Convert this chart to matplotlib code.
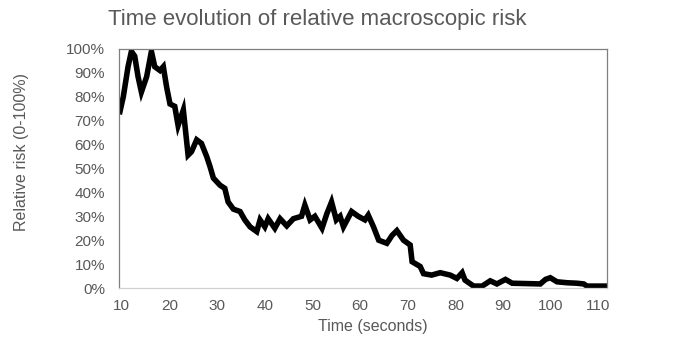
import matplotlib
matplotlib.use("Agg")
import matplotlib.pyplot as plt
from matplotlib.ticker import FuncFormatter

time_s = [9.6, 10.3, 11.3, 12.0, 12.7, 13.4, 14.1, 15.2, 16.2, 16.9, 18.0, 18.7,
          19.4, 20.1, 21.1, 21.8, 22.9, 23.9, 24.6, 25.7, 26.7, 27.8, 28.5, 29.2,
          30.6, 31.6, 32.3, 33.4, 34.8, 35.8, 36.9, 38.3, 39.0, 40.0, 40.7, 42.1,
          43.2, 44.6, 46.0, 47.7, 48.4, 49.5, 50.5, 52.0, 53.0, 54.0, 55.0, 55.8,
          56.5, 58.2, 59.6, 61.0, 61.7, 62.8, 63.9, 65.6, 66.7, 67.7, 69.1, 70.5,
          70.9, 72.6, 73.3, 75.0, 76.8, 78.9, 80.3, 81.4, 82.0, 83.8, 85.6, 87.3,
          88.7, 90.5, 91.9, 97.8, 98.9, 99.9, 101.3, 103.4, 105.5, 106.9, 107.6,
          111.5]
risk_pct = [73.8, 80, 92.6, 99, 97, 88.4, 82, 88.4, 99, 92.6, 91, 92.6,
            84, 77, 76, 68, 74.5, 55.6, 57, 62, 60.5, 55, 50.8, 46,
            43, 41.7, 36, 33, 32, 28.5, 25.6, 23.6, 28.5, 25.6, 29, 25,
            29, 26, 29, 30, 34.7, 28.5, 30, 25, 31, 36, 28.5, 30,
            25.6, 32, 30, 28.5, 30.5, 25.6, 20, 18.7, 22, 24, 20, 18,
            11, 9, 6, 5.4, 6.4, 5.4, 4, 6.4, 3.3, 0.8, 0.8, 3,
            1.7, 3.6, 2, 1.7, 3.6, 4.3, 2.6, 2.2, 2, 1.7, 0.8,
            0.8]

x_ticks = [10, 20, 30, 40, 50, 60, 70, 80, 90, 100, 110]
y_ticks = [0, 10, 20, 30, 40, 50, 60, 70, 80, 90, 100]

plt.rcParams['font.family'] = ['Liberation Sans', 'DejaVu Sans']
gray = '#595959'

fig = plt.figure(figsize=(6.87, 3.46), dpi=100)
ax = fig.add_axes([119/687, 1-288/346, (607-119)/687, (288-49)/346])

ax.plot(time_s, risk_pct, color='black', linewidth=4.0, solid_joinstyle='miter',
        clip_on=True)

ax.set_xlim(9.4, 111.8)
ax.set_ylim(0, 100)
ax.set_xticks(x_ticks)
ax.set_yticks(y_ticks)
ax.yaxis.set_major_formatter(FuncFormatter(lambda v, p: f"{int(v)}%"))
ax.tick_params(length=0, labelsize=11, colors=gray)
ax.tick_params(axis='y', pad=10)
ax.tick_params(axis='x', pad=8)

for side in ['top', 'left', 'right']:
    ax.spines[side].set_color('#7f7f7f')
    ax.spines[side].set_linewidth(0.9)
ax.spines['bottom'].set_color('#d0d0d0')
ax.spines['bottom'].set_linewidth(0.9)

fig.text(317/687, 1-19/346, 'Time evolution of relative macroscopic risk',
         ha='center', va='center', fontsize=16, color=gray)
fig.text(373/687, 1-327/346, 'Time (seconds)', ha='center', va='center',
         fontsize=11.5, color=gray)
fig.text(22/687, 1-152/346, 'Relative risk (0-100%)', ha='center', va='center',
         rotation=90, fontsize=11.5, color=gray)

fig.savefig('out.png', dpi=100)
